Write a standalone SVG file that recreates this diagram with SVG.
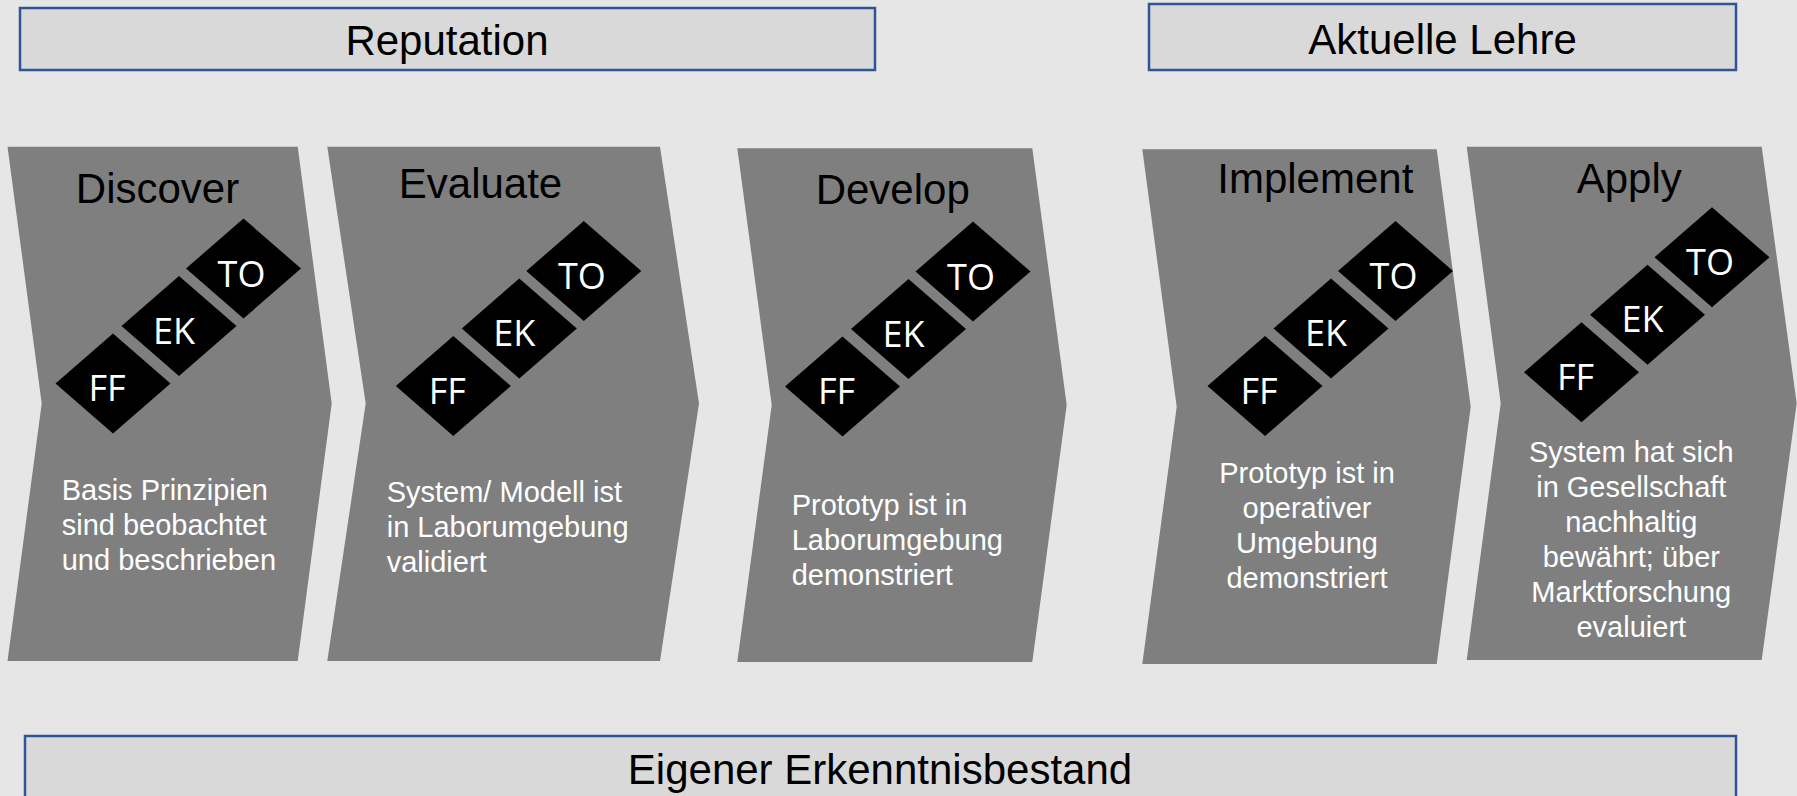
<svg xmlns="http://www.w3.org/2000/svg" width="1797" height="796" viewBox="0 0 1797 796">
<style>
.bg{fill:#e7e6e6}
.box{fill:#d9d9d9;stroke:#2f5597;stroke-width:2.5}
.hdr{font-family:"Liberation Sans",Arial,sans-serif;font-size:42px;fill:#000;text-anchor:middle}
.chev{fill:#7f7f7f}
.title{font-family:"Liberation Sans",Arial,sans-serif;font-size:42px;fill:#000;text-anchor:middle}
.dia{fill:#000}
.dt{font-family:"Open Sans","Liberation Sans",sans-serif;font-size:36px;fill:#fff;text-anchor:middle}
.body{font-family:"Liberation Sans",Arial,sans-serif;font-size:29px;fill:#fff}
.mid{text-anchor:middle}
</style>
<defs>
<polygon id="dm" points="-57.5,0 0,-50 57.5,0 0,50"/>
<g id="tri">
<use href="#dm" class="dia" x="0" y="0"/>
<use href="#dm" class="dia" x="66" y="-57.5"/>
<use href="#dm" class="dia" x="130.5" y="-115"/>
<text class="dt" x="-6" y="17.5">FF</text>
<text class="dt" x="61" y="-40">EK</text>
<text class="dt" x="128.5" y="-97">TO</text>
</g>
</defs>
<rect class="bg" x="0" y="0" width="1797" height="796"/>

<g id="reputation">
<rect class="box" x="20" y="8" width="855" height="62"/>
<text class="hdr" x="447" y="55">Reputation</text>
</g>
<g id="aktuelle-lehre">
<rect class="box" x="1149" y="4" width="587" height="66"/>
<text class="hdr" x="1442.5" y="53.5">Aktuelle Lehre</text>
</g>

<g id="discover">
<polygon class="chev" points="7.5,146.7 297.7,146.7 331.7,403.5 297.7,661 7.5,661 41.7,403.5"/>
<text class="title" x="157.5" y="202.7">Discover</text>
<use href="#tri" x="113" y="383.5"/>
<text class="body" x="61.7" y="500">Basis Prinzipien</text>
<text class="body" x="61.7" y="535">sind beobachtet</text>
<text class="body" x="61.7" y="570">und beschrieben</text>
</g>

<g id="evaluate">
<polygon class="chev" points="327.3,146.7 660,146.7 699,403.5 660,661 327.3,661 365.7,403.5"/>
<text class="title" x="480.5" y="198.3">Evaluate</text>
<use href="#tri" x="453.3" y="386"/>
<text class="body" x="386.7" y="501.7">System/ Modell ist</text>
<text class="body" x="386.7" y="536.7">in Laborumgebung</text>
<text class="body" x="386.7" y="571.7">validiert</text>
</g>

<g id="develop">
<polygon class="chev" points="737.3,148.3 1032.3,148.3 1066.7,405 1032.3,662 737.3,662 771.7,405"/>
<text class="title" x="892.7" y="204">Develop</text>
<use href="#tri" x="842.5" y="386.5"/>
<text class="body" x="791.7" y="515">Prototyp ist in</text>
<text class="body" x="791.7" y="550">Laborumgebung</text>
<text class="body" x="791.7" y="585">demonstriert</text>
</g>

<g id="implement">
<polygon class="chev" points="1142.3,149.3 1436.7,149.3 1470.7,406.7 1436.7,664 1142.3,664 1176.7,406.7"/>
<text class="title" x="1315.3" y="193.3">Implement</text>
<use href="#tri" x="1265" y="386"/>
<text class="body mid" x="1307" y="482.7">Prototyp ist in</text>
<text class="body mid" x="1307" y="517.7">operativer</text>
<text class="body mid" x="1307" y="552.7">Umgebung</text>
<text class="body mid" x="1307" y="587.7">demonstriert</text>
</g>

<g id="apply">
<polygon class="chev" points="1466.7,146.7 1761.7,146.7 1796.7,403.3 1761.7,660 1466.7,660 1500.7,403.3"/>
<text class="title" x="1629.2" y="193.3">Apply</text>
<use href="#tri" x="1581.5" y="372.3"/>
<text class="body mid" x="1631.3" y="461.7">System hat sich</text>
<text class="body mid" x="1631.3" y="496.7">in Gesellschaft</text>
<text class="body mid" x="1631.3" y="531.7">nachhaltig</text>
<text class="body mid" x="1631.3" y="566.7">bewährt; über</text>
<text class="body mid" x="1631.3" y="601.7">Marktforschung</text>
<text class="body mid" x="1631.3" y="636.7">evaluiert</text>
</g>

<g id="eigener-erkenntnisbestand">
<rect class="box" x="25" y="736" width="1711" height="80"/>
<text class="hdr" x="880" y="784">Eigener Erkenntnisbestand</text>
</g>

<g id="connectors"/>
</svg>
